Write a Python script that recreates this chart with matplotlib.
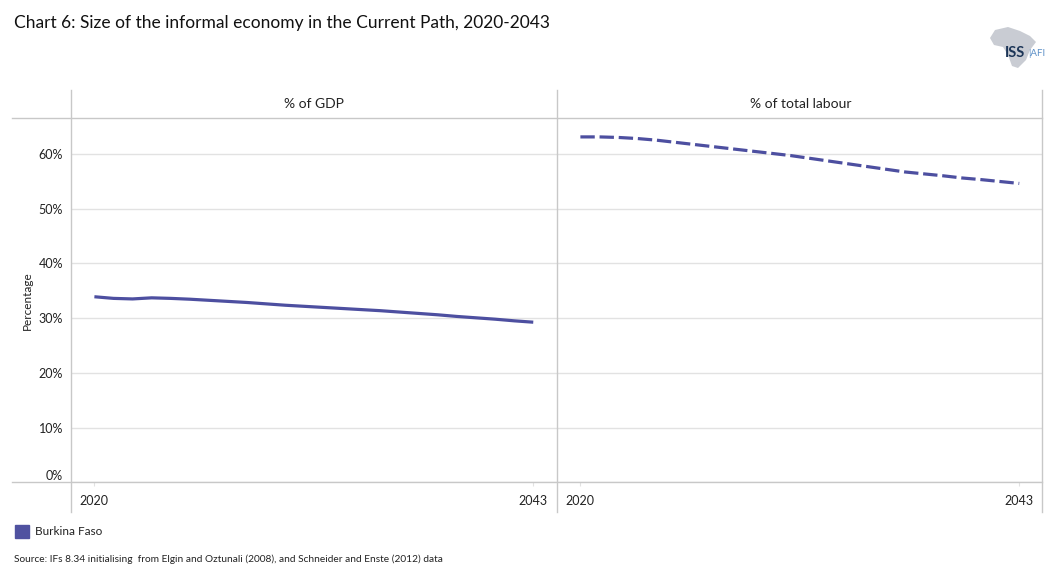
import matplotlib
matplotlib.use("Agg")
import matplotlib.pyplot as plt
from matplotlib.lines import Line2D
from matplotlib.patches import Rectangle, Polygon

plt.rcParams['font.family'] = ['Lato', 'DejaVu Sans']

years = list(range(2020, 2044))
gdp_share = [33.9, 33.6, 33.5, 33.7, 33.6, 33.45, 33.25, 33.05, 32.85, 32.6,
             32.35, 32.15, 31.95, 31.75, 31.55, 31.35, 31.1, 30.85, 30.6, 30.3,
             30.05, 29.8, 29.5, 29.25]
labour_share = [63.1, 63.1, 63.0, 62.8, 62.5, 62.1, 61.7, 61.3, 60.9, 60.5,
                60.1, 59.7, 59.2, 58.7, 58.2, 57.7, 57.2, 56.7, 56.35, 56.0,
                55.6, 55.3, 54.95, 54.6]
panel_titles = ["% of GDP", "% of total labour"]
country = "Burkina Faso"
y_ticks = [0, 10, 20, 30, 40, 50, 60]
x_ticks = [2020, 2043]

W, H = 1055, 584
fig = plt.figure(figsize=(W / 100, H / 100), dpi=100)

def fx(x):
    return x / W

def fy(y):
    return 1 - y / H

line_col = "#4D4FA0"
frame_col = "#C8C8C8"
grid_col = "#E2E2E2"

left_px = [71.3, 557.3]
pw = 486.0
top_px, bot_px = 118.3, 482.3

series = [gdp_share, labour_share]
styles = ["solid", "dashed"]
axes = []
for i in range(2):
    ax = fig.add_axes([fx(left_px[i]), fy(bot_px), pw / W, (bot_px - top_px) / H])
    axes.append(ax)
    ln, = ax.plot(years, series[i], color=line_col, lw=2.3,
                  solid_capstyle='butt', dash_capstyle='butt')
    if styles[i] == "dashed":
        ln.set_dashes([4.5, 1.5])
    ax.set_xlim(2018.79, 2044.26)
    ax.set_ylim(0, 66.5)
    ax.set_yticks(y_ticks)
    ax.set_xticks(x_ticks)
    ax.set_xticklabels([str(t) for t in x_ticks], fontsize=9, color="#222222")
    ax.grid(axis='y', color=grid_col, lw=1)
    ax.set_axisbelow(True)
    for s in ax.spines.values():
        s.set_visible(False)
    ax.tick_params(axis='x', length=3, color=grid_col, pad=6)
    ax.tick_params(axis='y', length=0, pad=6)
    if i == 0:
        ax.set_yticklabels([f"{t}%" for t in y_ticks], fontsize=9, color="#222222")
        ax.get_yticklabels()[0].set_verticalalignment('bottom')
        ax.set_ylabel("Percentage", fontsize=8.5, color="#222222", labelpad=4)
    else:
        ax.set_yticklabels([])
    ax.patch.set_alpha(0)
    fig.text(fx(left_px[i] + pw / 2), fy(103.5), panel_titles[i],
             ha='center', va='center', fontsize=10, color="#222222")

# frame lines
def hline(y, x0, x1, c=frame_col):
    fig.add_artist(Line2D([fx(x0), fx(x1)], [fy(y), fy(y)], color=c, lw=1.0))

def vline(x, y0, y1, c=frame_col):
    fig.add_artist(Line2D([fx(x), fx(x)], [fy(y0), fy(y1)], color=c, lw=1.0))

hline(top_px, 12, 1042.3)
hline(bot_px, 12, 1042.3)
for x in [71.3, 557.3, 1042.3]:
    vline(x, 90, 511.7)

# title
fig.text(fx(14), fy(23), "Chart 6: Size of the informal economy in the Current Path, 2020-2043",
         ha='left', va='center', fontsize=12.5, color="#111111")

# legend
fig.add_artist(Rectangle((fx(15), fy(538)), 14 / W, 13 / H, transform=fig.transFigure,
                         color="#5052A0"))
fig.text(fx(35), fy(531.5), country, ha='left', va='center', fontsize=8.5, color="#222222")

# source
fig.text(fx(14), fy(559), "Source: IFs 8.34 initialising  from Elgin and Oztunali (2008), and Schneider and Enste (2012) data",
         ha='left', va='center', fontsize=7.3, color="#222222")

# logo (approximate)
africa = [(995, 30), (1008, 27), (1020, 31), (1030, 36), (1036, 42), (1030, 50),
          (1026, 60), (1018, 68), (1012, 66), (1008, 55), (1003, 47), (994, 45), (990, 38)]
fig.add_artist(Polygon([(fx(x), fy(y)) for x, y in africa], closed=True,
                       transform=fig.transFigure, color="#C9CCD3", lw=0))
fig.text(fx(1005), fy(53), "ISS", ha='left', va='center', fontsize=10.5,
         color="#1C3557", fontweight='bold')
fig.text(fx(1028), fy(53), "|AFI", ha='left', va='center', fontsize=7, color="#5B8FC7")

fig.savefig("out.png", dpi=100)
